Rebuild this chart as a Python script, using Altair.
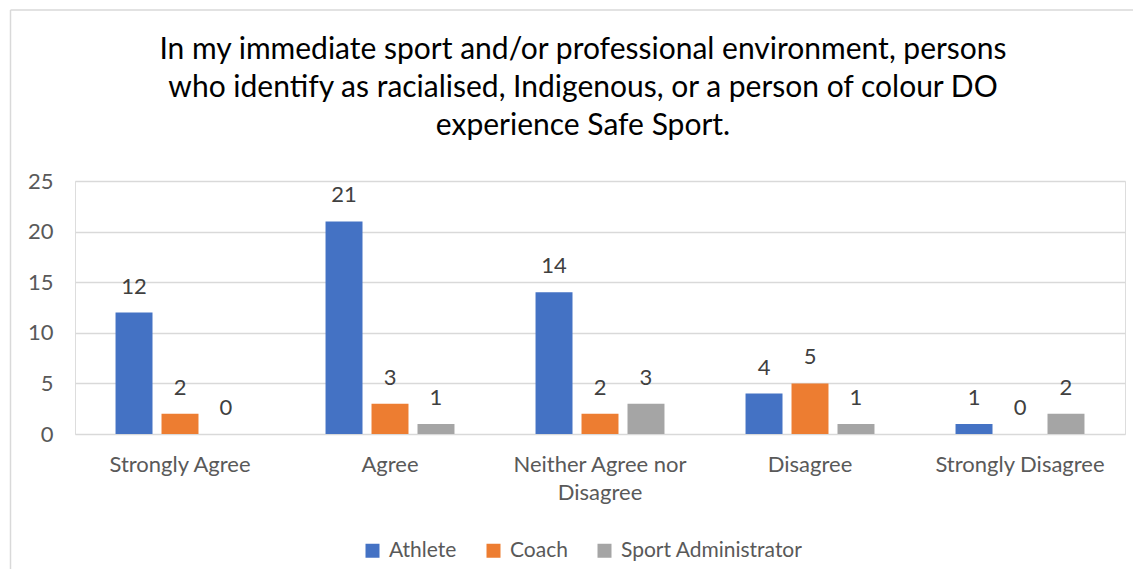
import altair as alt
import pandas as pd

categories = ["Strongly Agree", "Agree", "Neither Agree nor Disagree", "Disagree", "Strongly Disagree"]
series = ["Athlete", "Coach", "Sport Administrator"]
athlete = [12, 21, 14, 4, 1]
coach = [2, 3, 2, 5, 0]
admin = [0, 1, 3, 1, 2]
colors = ["#4472C4", "#ED7D31", "#A5A5A5"]
title_lines = [
    "In my immediate sport and/or professional environment, persons",
    "who identify as racialised, Indigenous, or a person of colour DO",
    "experience Safe Sport.",
]

rows = []
for name, vals in zip(series, [athlete, coach, admin]):
    for c, v in zip(categories, vals):
        rows.append({"category": c, "series": name, "value": v})
df = pd.DataFrame(rows)

FONT = "Lato"
FS = 22

x = alt.X(
    "category:N",
    sort=categories,
    title=None,
    scale=alt.Scale(paddingInner=0.386, paddingOuter=0.193),
    axis=alt.Axis(
        labelAngle=0,
        labelFontSize=FS,
        labelColor="#595959",
        labelFont=FONT,
        labelPadding=20,
        labelLineHeight=28,
        labelBaseline="top",
        labelLimit=0,
        domain=False,
        ticks=False,
        labelExpr="datum.label == 'Neither Agree nor Disagree' ? ['Neither Agree nor', 'Disagree'] : datum.label",
    ),
)
xo = alt.XOffset(
    "series:N",
    sort=series,
    scale=alt.Scale(paddingInner=0.196, paddingOuter=0),
)

bars = alt.Chart(df).mark_bar().encode(
    x=x,
    xOffset=xo,
    y=alt.Y(
        "value:Q",
        title=None,
        stack=None,
        scale=alt.Scale(domain=[0, 25], nice=False),
        axis=alt.Axis(
            values=[0, 5, 10, 15, 20, 25],
            labelFontSize=FS,
            labelColor="#595959",
            labelFont=FONT,
            labelPadding=22,
            domain=False,
            ticks=False,
            gridColor="#D9D9D9",
            gridWidth=1.3,
        ),
    ),
    color=alt.Color(
        "series:N",
        sort=series,
        scale=alt.Scale(domain=series, range=colors),
        legend=alt.Legend(
            title=None,
            orient="none",
            legendX=287,
            legendY=359,
            direction="horizontal",
            symbolType="square",
            symbolSize=196,
            symbolStrokeWidth=0,
            labelFontSize=21,
            labelColor="#595959",
            labelFont=FONT,
            labelOffset=6,
            labelLimit=0,
            columnPadding=26,
            padding=0,
        ),
    ),
)

labels = alt.Chart(df).mark_text(
    fontSize=FS, color="#404040", font=FONT, baseline="alphabetic", dy=-19
).encode(
    x=alt.X("category:N", sort=categories),
    xOffset=xo,
    y=alt.Y("value:Q", stack=None),
    text="value:Q",
)

border_left = alt.Chart(pd.DataFrame({"a": [0]})).mark_rule(color="#D9D9D9", strokeWidth=1.5).encode(
    x=alt.value(-64.5), y=alt.value(-171), y2=alt.value(400)
)
border_top = alt.Chart(pd.DataFrame({"a": [0]})).mark_rule(color="#D9D9D9", strokeWidth=1.5).encode(
    x=alt.value(-64.5), x2=alt.value(1070), y=alt.value(-171)
)

chart = alt.layer(border_left, border_top, bars, labels).properties(
    width=1050,
    height=253,
    autosize=alt.AutoSizeParams(type="none"),
    padding={"left": 67, "top": 173, "right": 8, "bottom": 135},
    title=alt.TitleParams(
        text=title_lines,
        fontSize=30,
        font=FONT,
        fontWeight="normal",
        color="#000000",
        lineHeight=38,
        anchor="middle",
        dx=-17,
        offset=-132,
    ),
).configure_view(stroke=None).configure(background="white")

chart.save("out.html", embed_options={"renderer": "svg", "actions": False})
